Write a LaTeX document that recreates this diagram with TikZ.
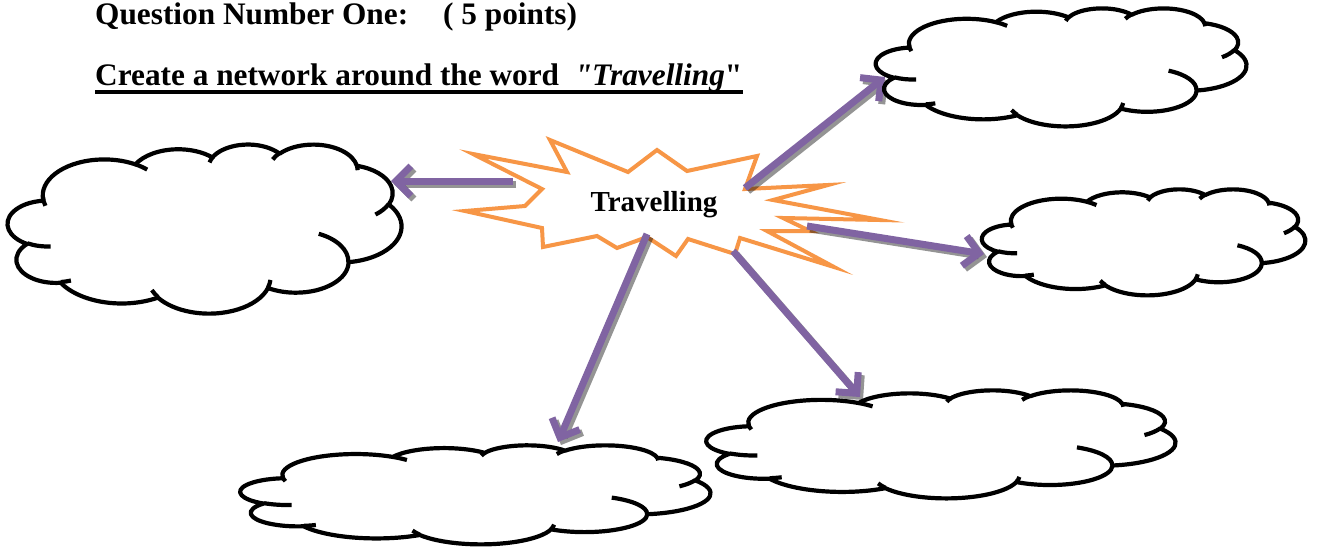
\documentclass[tikz,border=0pt]{standalone}
\usepackage{fontspec}
\setmainfont{Liberation Serif}[Ligatures=TeXOff]
\usetikzlibrary{arrows.meta}

\definecolor{linkpurple}{HTML}{8064A2}
\definecolor{burstorange}{HTML}{F79646}

% DrawingML arcs use geometric angles; TikZ wants parametric ones
\newcommand\parang[3]{((#3)+asin(sin(atan2((#1)*sin(#3),(#2)*cos(#3))-(#3))))}

\tikzset{
  carc/.style n args={4}{x radius=#1, y radius=#2,
    start angle={\parang{#1}{#2}{#3}}, end angle={\parang{#1}{#2}{#3+#4}}},
  cloudline/.style={draw=black, line width=4.2pt, line join=round},
  burst/.style={draw=burstorange, fill=white, line width=4pt, line join=miter, miter limit=20},
  linkarrow/.style={draw=linkpurple, line width=7pt,
    -{Straight Barb[length=15pt, width=30pt]}},
  linkshadow/.style={linkarrow, draw=black, draw opacity=0.42},
  headtext/.style={anchor=base west, inner sep=0pt,
    font=\fontsize{31.3}{37}\selectfont\bfseries},
}

% cloud outline in a 43.2 x 43.2 frame, scaled into the box (left, top, width, height)
\newcommand\drawcloud[4]{%
  \begin{scope}[shift={(#1,#2)}, xscale={#3/43.2}, yscale={#4/43.2}]
    \filldraw[cloudline, fill=white] (3.900,14.370)
      arc[carc={6.753}{9.190}{-190.4875}{123.7805}]
      arc[carc={5.333}{7.267}{-144.1024}{89.9452}]
      arc[carc={4.365}{5.945}{-145.8079}{99.7230}]
      arc[carc={4.857}{6.595}{-130.9861}{117.2417}]
      arc[carc={5.333}{7.273}{-78.7089}{109.0269}]
      arc[carc={6.775}{9.220}{-46.2673}{130.2690}]
      arc[carc={5.785}{7.867}{0.6250}{114.0333}]
      arc[carc={6.752}{9.215}{22.4516}{115.1726}]
      arc[carc={7.720}{10.543}{66.2426}{75.7110}]
      arc[carc={4.360}{5.918}{-274.9421}{146.7356}]
      arc[carc={4.345}{5.945}{-246.8285}{152.5189}]
      -- cycle;
    \draw[cloudline]
      (4.693,26.177) arc[carc={4.345}{5.945}{86.7420}{26.4295}]
      (6.928,34.899) arc[carc={4.360}{5.918}{73.6105}{11.4475}]
      (16.478,39.090) arc[carc={6.752}{9.215}{137.6242}{14.0811}]
      (28.827,34.751) arc[carc={6.752}{9.215}{6.4533}{15.9984}]
      (34.129,22.954) arc[carc={5.785}{7.867}{-70.2924}{70.9174}]
      (41.798,15.354) arc[carc={5.333}{7.273}{30.3180}{27.7515}]
      (38.324,5.426) arc[carc={4.857}{6.595}{-13.7443}{14.8589}]
      (29.078,3.952) arc[carc={4.857}{6.595}{-149.1815}{18.1954}]
      (22.141,4.720) arc[carc={4.365}{5.945}{-163.4943}{17.6864}]
      (14.000,5.192) arc[carc={6.753}{9.190}{-66.7070}{12.3194}]
      (4.127,15.789) arc[carc={6.753}{9.190}{158.3148}{18.9466}];
  \end{scope}}

\begin{document}
\begin{tikzpicture}[x=1pt, y=1pt, yscale=-1]
  \fill[white] (0,0) rectangle (1319,547);
  \useasboundingbox (0,0) rectangle (1319,547);

  % heading
  \node[headtext] (q1) at (95,24) {Question Number One:\hspace{35pt}( 5 points)};
  \node[headtext] (q2) at (95,85) {Create a network around the word\ \ \textit{"Travelling}"};
  \draw[line width=3.2pt] ([shift={(0,7)}]q2.base west) -- ([shift={(0,7)}]q2.base east);

  % central burst
  \draw[burst] (473,154) -- (567,172) -- (550,140) -- (628,172) -- (657,150)
    -- (687,171) -- (757,156) -- (745,189) -- (828,185) -- (773,200)
    -- (880,220) -- (783,218) -- (810,231) -- (767,231) -- (834,267)
    -- (740,238) -- (735,254) -- (688,239) -- (676,256) -- (647,237)
    -- (617,248) -- (597,236) -- (543,247) -- (542,228) -- (465,211)
    -- (525,206) -- (542,189) -- cycle;
  \node[inner sep=0pt, anchor=base, font=\fontsize{29}{34}\selectfont\bfseries]
    (hub) at (654,211) {Travelling};

  % arrow ends
  \coordinate (w0) at (513,181);  \coordinate (w1) at (391,181);
  \coordinate (ne0) at (745,188); \coordinate (ne1) at (885,77);
  \coordinate (e0) at (807,226);  \coordinate (e1) at (984,254);
  \coordinate (se0) at (733,251); \coordinate (se1) at (860,397);
  \coordinate (s0) at (647,234);  \coordinate (s1) at (558,442);

  % shadows, then arrows
  \foreach \a/\b in {w0/w1, ne0/ne1, e0/e1, se0/se1, s0/s1}{
    \draw[linkshadow] ([shift={(3,3)}]\a) -- ([shift={(3,3)}]\b);
  }
  \foreach \a/\b in {w0/w1, ne0/ne1, e0/e1, se0/se1, s0/s1}{
    \draw[linkarrow] (\a) -- (\b);
  }

  % clouds
  \drawcloud{7.8}{144}{393.6}{169}
  \drawcloud{875.9}{8}{370.5}{118}
  \drawcloud{982}{189}{323.3}{106}
  \drawcloud{706.5}{390}{468.9}{108}
  \drawcloud{240.5}{445}{469.9}{99}
\end{tikzpicture}
\end{document}
